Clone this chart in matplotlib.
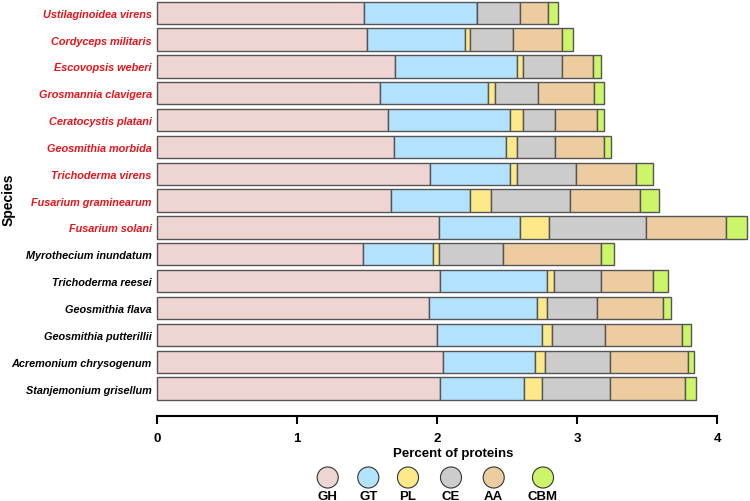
import numpy as np
import matplotlib
matplotlib.use('Agg')
import matplotlib.pyplot as plt

plt.rcParams['font.family'] = ['Liberation Sans', 'DejaVu Sans']

species = ['Ustilaginoidea virens', 'Cordyceps militaris', 'Escovopsis weberi',
           'Grosmannia clavigera', 'Ceratocystis platani', 'Geosmithia morbida',
           'Trichoderma virens', 'Fusarium graminearum', 'Fusarium solani',
           'Myrothecium inundatum', 'Trichoderma reesei', 'Geosmithia flava',
           'Geosmithia putterillii', 'Acremonium chrysogenum', 'Stanjemonium grisellum']
n_red = 9  # first nine names are drawn in red

families = ['GH', 'GT', 'PL', 'CE', 'AA', 'CBM']
colors = ['#EED5D2', '#B3E2FF', '#FDE98A', '#CCCCCC', '#EDCDA0', '#CCF56A']

GH = [1.48, 1.50, 1.70, 1.59, 1.65, 1.69, 1.95, 1.67, 2.01, 1.47, 2.02, 1.94, 2.00, 2.04, 2.02]
GT = [0.80, 0.70, 0.87, 0.77, 0.87, 0.80, 0.57, 0.56, 0.58, 0.50, 0.76, 0.77, 0.75, 0.66, 0.60]
PL = [0.00, 0.03, 0.04, 0.05, 0.09, 0.08, 0.05, 0.15, 0.21, 0.04, 0.05, 0.07, 0.07, 0.07, 0.13]
CE = [0.31, 0.31, 0.28, 0.31, 0.23, 0.27, 0.42, 0.57, 0.69, 0.46, 0.34, 0.36, 0.38, 0.46, 0.48]
AA = [0.20, 0.35, 0.22, 0.40, 0.30, 0.35, 0.43, 0.50, 0.57, 0.70, 0.37, 0.47, 0.55, 0.56, 0.54]
CBM = [0.07, 0.08, 0.06, 0.07, 0.05, 0.05, 0.12, 0.13, 0.15, 0.09, 0.11, 0.06, 0.06, 0.04, 0.08]
values = [GH, GT, PL, CE, AA, CBM]

fig = plt.figure(figsize=(7.5, 5.02), dpi=100)
ax = fig.add_axes([0.2097, 0.170, 0.7878, 0.830])

y = np.arange(len(species))
left = np.zeros(len(species))
for vals, col in zip(values, colors):
    vals = np.array(vals)
    ax.barh(y, vals, left=left, height=0.83, color=col, edgecolor='#555555',
            linewidth=1.0, clip_on=False)
    left += vals

ax.set_ylim(15.01, -0.51)
ax.set_xlim(0, 4.22)
ax.set_xticks([0, 1, 2, 3, 4])
ax.set_xticklabels(['0', '1', '2', '3', '4'], fontsize=9.5, fontweight='bold')
ax.tick_params(axis='x', length=6, width=1.5, direction='out', pad=6)
ax.set_yticks(y)
ax.set_yticklabels(species, fontsize=7.85, fontweight='bold', fontstyle='italic')
for i, lab in enumerate(ax.get_yticklabels()):
    lab.set_color('#E8141A' if i < n_red else 'black')
ax.tick_params(axis='y', length=0, pad=4)

for s in ['top', 'right', 'left']:
    ax.spines[s].set_visible(False)
ax.spines['bottom'].set_linewidth(1.5)
ax.spines['bottom'].set_bounds(0, 4)

ax.set_xlabel('Percent of proteins', fontsize=9.5, fontweight='bold', labelpad=2)
ax.set_ylabel('Species', fontsize=10, fontweight='bold')
ax.yaxis.set_label_coords(-0.24, 0.52)

# legend: circles with labels underneath
legend_x = [327.7, 368.3, 408.0, 451.0, 493.7, 543.0]
lax = fig.add_axes([0, 0, 1, 0.1])
lax.set_xlim(0, 750)
lax.set_ylim(0, 50.2)
lax.axis('off')
lax.scatter(legend_x, [23.5] * len(families), s=230, c=colors,
            edgecolors='#333333', linewidths=0.8)
for xp, fam in zip(legend_x, families):
    lax.text(xp, 5, fam, ha='center', va='center', fontsize=9.5, fontweight='bold')

fig.savefig('out.png', dpi=100)
